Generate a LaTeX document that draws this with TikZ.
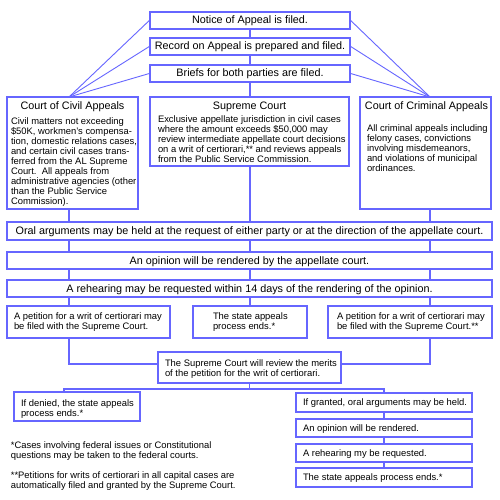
\documentclass[tikz,border=0pt]{standalone}
\usepackage{fontspec}
\setmainfont{Liberation Sans}
\definecolor{bl}{RGB}{102,102,255}
\newcommand{\fntL}{\fontsize{10.8}{12}\selectfont}
\newcommand{\fntS}{\fontsize{9.4}{10}\selectfont}
\newcommand{\inbox}[4]{\begin{minipage}[c][#2pt][t]{#1pt}\lineskiplimit=-100pt\parindent=0pt\vspace*{#3pt}#4\end{minipage}}
\newcommand{\lft}[2]{{\fntS\raggedright\leftskip=#1pt\rightskip=-60pt plus 1fil\strut #2\par}}
\newcommand{\ttl}[1]{{\fntL\centering\strut #1\par}}
\begin{document}
\begin{tikzpicture}[x=1pt,y=-1pt,
  box/.style={draw=bl, line width=1.4pt, fill=white, inner sep=0pt},
  cbox/.style={box, font=\fntL, text height=9pt, text depth=2pt, align=center},
  conn/.style={draw=bl, line width=1.2pt},
  fan/.style={draw=bl, line width=0.9pt}]
\fill[white] (0,0) rectangle (500,500);
\useasboundingbox (0,0) rectangle (500,500);

\node[cbox, minimum width=200pt, minimum height=17pt] (notice) at (250,20.5) {Notice of Appeal is filed.};
\node[cbox, minimum width=200pt, minimum height=17pt] (record) at (250,46.5) {Record on Appeal is prepared and filed.};
\node[cbox, minimum width=200pt, minimum height=17pt] (briefs) at (250,73.5) {Briefs for both parties are filed.};

\node[box] (civil) at (72.5,153) {\inbox{131}{112}{3.9}{\ttl{Court of Civil Appeals}\vspace{5pt}\lft{4}{Civil matters not exceeding\\ \$50K, workmen's compensa-\\ tion, domestic relations cases,\\ and certain civil cases trans-\\ ferred from the AL Supreme\\ Court.\ \ All appeals from\\ administrative agencies (other\\ than the Public Service\\ Commission).}}};
\node[box] (supreme) at (249.5,131.5) {\inbox{199}{69}{3.9}{\ttl{Supreme Court}\vspace{3pt}\lft{8}{Exclusive appellate jurisdiction in civil cases\\ where the amount exceeds \$50,000 may\\ review intermediate appellate court decisions\\ on a writ of certiorari,** and reviews appeals\\ from the Public Service Commission.}}};
\node[box] (criminal) at (425.5,153) {\inbox{131}{112}{3.9}{\hspace*{2pt}\ttl{Court of Criminal Appeals}\vspace{12.4pt}\lft{7}{All criminal appeals including\\ felony cases, convictions\\ involving misdemeanors,\\ and violations of municipal\\ ordinances.}}};

\node[cbox, minimum width=485pt, minimum height=18pt] (oral) at (249.5,231) {Oral arguments may be held at the request of either party or at the direction of the appellate court.};
\node[cbox, minimum width=485pt, minimum height=17pt] (opinion) at (249.5,260.5) {An opinion will be rendered by the appellate court.};
\node[cbox, minimum width=485pt, minimum height=17pt] (rehear) at (249.5,288.5) {A rehearing may be requested within 14 days of the rendering of the opinion.};

\node[box] (petL) at (88.5,322) {\inbox{163}{32}{6.3}{\lft{7}{A petition for a writ of certiorari may\\ be filed with the Supreme Court.}}};
\node[box] (mid) at (250,322) {\inbox{114}{32}{6.3}{\lft{20}{The state appeals\\ process ends.*}}};
\node[box] (petR) at (410,322) {\inbox{164}{32}{6.3}{\lft{9}{A petition for a writ of certiorari may\\ be filed with the Supreme Court.**}}};

\node[box] (review) at (249.5,367.5) {\inbox{183}{31}{7}{\lft{7}{The Supreme Court will review the merits\\ of the petition for the writ of certiorari.}}};
\node[box] (denied) at (77,406.5) {\inbox{126}{29}{7}{\lft{7}{If denied, the state appeals\\ process ends.*}}};
\node[box] (granted) at (384,402.5) {\inbox{176}{19}{5.7}{\lft{7}{If granted, oral arguments may be held.}}};
\node[box] (opin2) at (384,428) {\inbox{176}{18}{5.3}{\lft{7}{An opinion will be rendered.}}};
\node[box] (rehear2) at (384,453) {\inbox{176}{18}{5}{\lft{7}{A rehearing my be requested.}}};
\node[box] (ends) at (384,477.5) {\inbox{176}{19}{5}{\lft{7}{The state appeals process ends.*}}};

\node[inner sep=0pt, anchor=north west] (notes) at (10.7,438) {\inbox{320}{55}{3.3}{\lft{0}{*Cases involving federal issues or Constitutional\\ questions may be taken to the federal courts.}\vspace{10pt}\lft{0}{**Petitions for writs of certiorari in all capital cases are\\ automatically filed and granted by the Supreme Court.}}};

% connectors
\coordinate (cLt) at (69,97);
\coordinate (cRt) at (430,97);
\draw[conn] (notice.south) -- (notice.south |- record.north);
\draw[conn] (record.south) -- (record.south |- briefs.north);
\draw[conn] (briefs.south) -- (briefs.south |- supreme.north);
\draw[fan] (cLt) -- (notice.west);
\draw[fan] (cLt) -- (record.west);
\draw[fan] (cLt) -- (briefs.west);
\draw[fan] (cRt) -- (notice.east);
\draw[fan] (cRt) -- (record.east);
\draw[fan] (cRt) -- (briefs.east);
\foreach \a/\b in {civil/oral, oral/opinion, opinion/rehear, rehear/petL}
  \draw[conn] (cLt |- \a.south) -- (cLt |- \b.north);
\foreach \a/\b in {criminal/oral, oral/opinion, opinion/rehear, rehear/petR}
  \draw[conn] (cRt |- \a.south) -- (cRt |- \b.north);
\foreach \a/\b in {supreme/oral, oral/opinion, opinion/rehear, rehear/mid}
  \draw[conn] (briefs.south |- \a.south) -- (briefs.south |- \b.north);
\draw[conn] (cLt |- petL.south) |- ([yshift=3.5pt]review.west);
\draw[conn] (cRt |- petR.south) |- ([yshift=3.5pt]review.east);
\coordinate (jL) at (64,389);
\coordinate (jR) at (384,389);
\draw[conn] (review.south) -- (review.south |- jL);
\draw[conn] (denied.north -| jL) -- (jL) -- (jR) -- (granted.north);
\draw[conn] (granted.south) -- (opin2.north);
\draw[conn] (opin2.south) -- (rehear2.north);
\draw[conn] (rehear2.south) -- (ends.north);
\end{tikzpicture}
\end{document}
